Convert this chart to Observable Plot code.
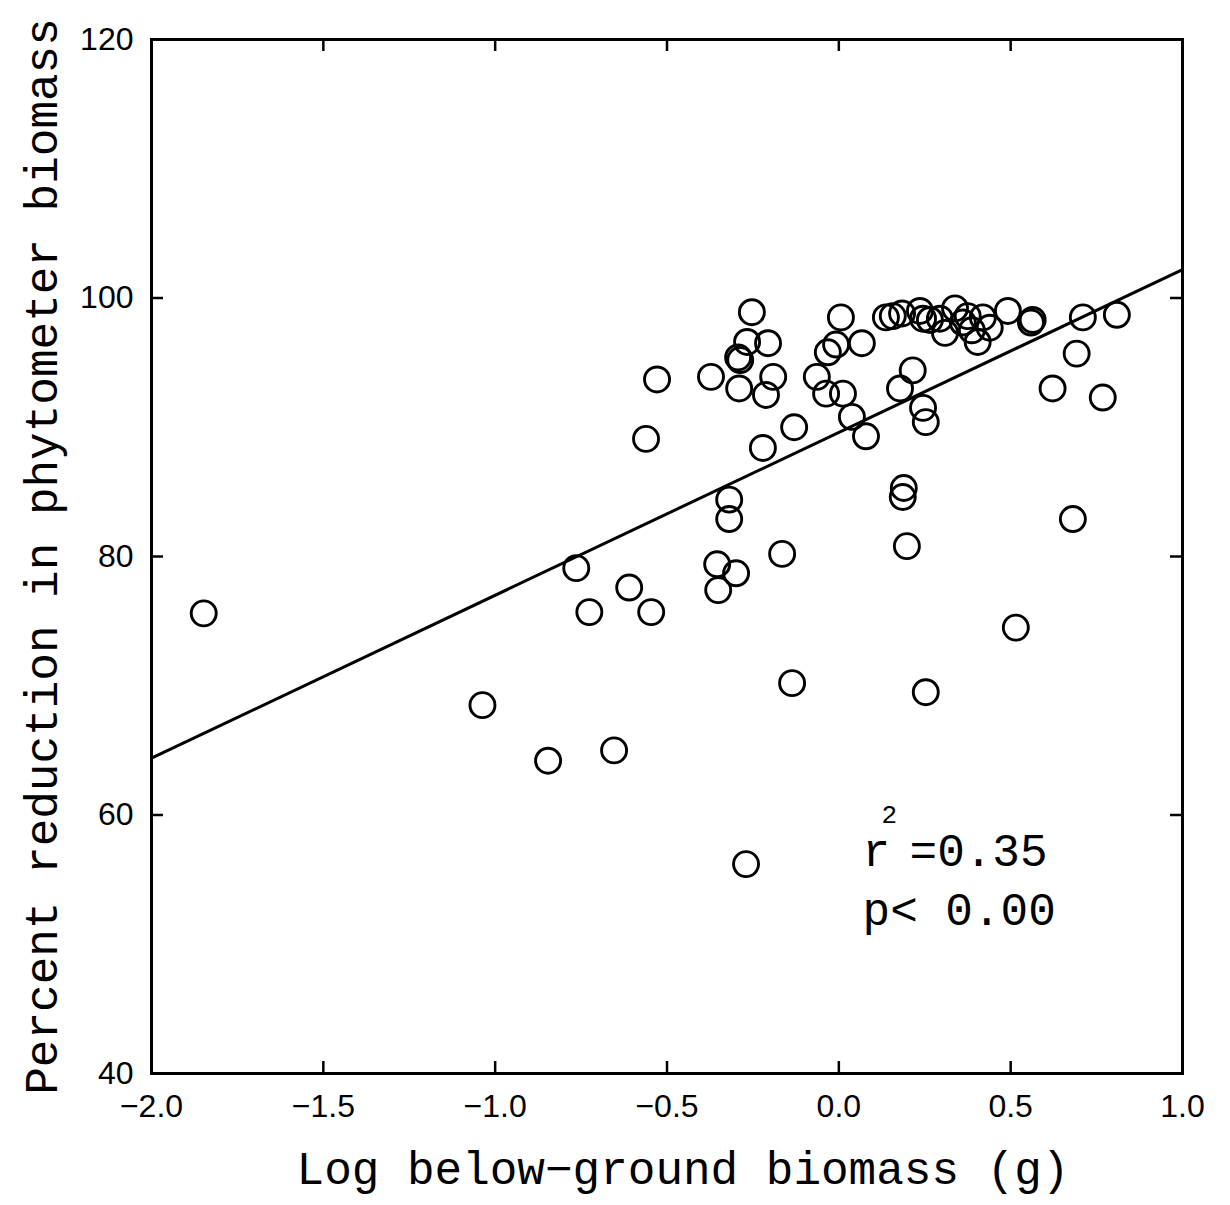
<!DOCTYPE html>
<html><head><meta charset="utf-8">
<script src="https://cdn.jsdelivr.net/npm/d3@7"></script>
<script src="https://cdn.jsdelivr.net/npm/@observablehq/plot@0.6"></script>
<style>body{margin:0;background:#fff}</style>
</head><body><div id="chart"></div>
<script>
// Data
const logBiomass = [-1.848,-1.037,-0.846,-0.654,-0.764,-0.726,-0.610,-0.546,-0.561,-0.529,
  -0.372,-0.354,-0.351,-0.319,-0.319,-0.299,-0.293,-0.287,-0.290,-0.270,
  -0.267,-0.253,-0.206,-0.212,-0.221,-0.191,-0.165,-0.136,-0.130,-0.064,
  -0.037,-0.032,-0.008,0.006,0.012,0.038,0.067,0.079,0.137,0.157,
  0.178,0.184,0.189,0.186,0.198,0.215,0.236,0.245,0.265,0.245,
  0.253,0.253,0.294,0.309,0.338,0.361,0.387,0.419,0.439,0.404,
  0.375,0.492,0.515,0.559,0.564,0.622,0.681,0.692,0.710,0.768,0.809];
const percentReduction = [75.6,68.5,64.2,65.0,79.1,75.7,77.6,75.7,89.1,93.7,
  93.9,79.4,77.4,84.4,82.9,78.7,95.4,95.2,93.0,56.2,
  96.6,98.9,96.5,92.5,88.4,93.9,80.2,70.2,90.0,93.9,
  92.6,95.8,96.4,98.5,92.6,90.8,96.5,89.3,98.5,98.6,
  93.0,98.8,85.3,84.6,80.8,94.4,99.0,98.4,98.3,91.5,
  90.4,69.5,98.4,97.3,99.2,98.1,97.5,98.5,97.7,96.6,
  98.6,99.0,74.5,98.1,98.3,93.0,82.9,95.7,98.5,92.3,98.7];
const xTicks = [-2, -1.5, -1, -0.5, 0, 0.5, 1];
const xTickLabels = ["\u22122.0","\u22121.5","\u22121.0","\u22120.5","0.0","0.5","1.0"];
const yTicks = [40, 60, 80, 100, 120];
const yTickLabels = ["40","60","80","100","120"];
const fitX = [-2, 1];
const fitY = [64.4, 102.2];
const statX = [0.069, 0.069];
const statY = [57.2, 52.6];
const rLabel = "r", rSup = "2", rValue = "=0.35", pLabel = "p< 0.00";
const xTitle = "Log below\u2212ground biomass (g)";
const yTitle = "Percent reduction in phytometer biomass";

const points = logBiomass.map((x, i) => ({x, y: percentReduction[i]}));
const fit = fitX.map((x, i) => ({x, y: fitY[i]}));
const xt = xTicks.map((v, i) => ({v, label: xTickLabels[i]}));
const yt = yTicks.map((v, i) => ({v, label: yTickLabels[i]}));
const rPos = [{x: statX[0], y: statY[0]}];
const pPos = [{x: statX[1], y: statY[1]}];

const W = 1230, H = 1205;
const mL = 151, mR = 48, mT = 39, mB = 132;
const fw = W - mL - mR, fh = H - mT - mB, tl = 12;
const mono = "'Liberation Mono', 'DejaVu Sans Mono', monospace";
const sans = "'Liberation Sans', Arial, Helvetica, sans-serif";

const chart = Plot.plot({
  width: W, height: H,
  marginLeft: mL, marginRight: mR, marginTop: mT, marginBottom: mB,
  x: {domain: [-2, 1], axis: null},
  y: {domain: [40, 120], axis: null},
  style: {background: "#fff", color: "#000"},
  marks: [
    Plot.frame({stroke: "#000", strokeWidth: 3}),
    // ticks (inward)
    Plot.tickX(xt, {x: "v", insetTop: fh - tl, stroke: "#000", strokeWidth: 2.5}),
    Plot.tickX(xt, {x: "v", insetBottom: fh - tl, stroke: "#000", strokeWidth: 2.5}),
    Plot.tickY(yt, {y: "v", insetRight: fw - tl, stroke: "#000", strokeWidth: 2.5}),
    Plot.tickY(yt, {y: "v", insetLeft: fw - tl, stroke: "#000", strokeWidth: 2.5}),
    // tick labels
    Plot.text(xt, {x: "v", text: "label", frameAnchor: "bottom", lineAnchor: "middle", dy: 33, fontSize: 32, fontFamily: sans, fill: "#000"}),
    Plot.text(yt, {y: "v", text: "label", frameAnchor: "left", lineAnchor: "middle", dx: -18, textAnchor: "end", fontSize: 32, fontFamily: sans, fill: "#000"}),
    // regression line
    Plot.line(fit, {x: "x", y: "y", stroke: "#000", strokeWidth: 3}),
    // data
    Plot.dot(points, {x: "x", y: "y", r: 12.5, stroke: "#000", strokeWidth: 2.9, fill: "none"}),
    // stats annotation
    Plot.text(rPos, {x: "x", y: "y", text: () => rLabel, textAnchor: "start", fontSize: 46, fontFamily: mono, fill: "#000"}),
    Plot.text(rPos, {x: "x", y: "y", text: () => rSup, textAnchor: "start", dx: 19, dy: -37, fontSize: 26, fontFamily: mono, fill: "#000"}),
    Plot.text(rPos, {x: "x", y: "y", text: () => rValue, textAnchor: "start", dx: 47, fontSize: 46, fontFamily: mono, fill: "#000"}),
    Plot.text(pPos, {x: "x", y: "y", text: () => pLabel, textAnchor: "start", fontSize: 46, fontFamily: mono, fill: "#000"}),
    // axis titles
    Plot.text([xTitle], {text: d => d, frameAnchor: "bottom", textAnchor: "middle", lineAnchor: "middle", dx: 16, dy: 96, fontSize: 46, fontFamily: mono, fill: "#000"}),
    Plot.text([yTitle], {text: d => d, frameAnchor: "left", textAnchor: "middle", lineAnchor: "middle", rotate: -90, dx: -109, fontSize: 46, fontFamily: mono, fill: "#000"})
  ]
});
document.getElementById("chart").appendChild(chart);
</script>
</body></html>
